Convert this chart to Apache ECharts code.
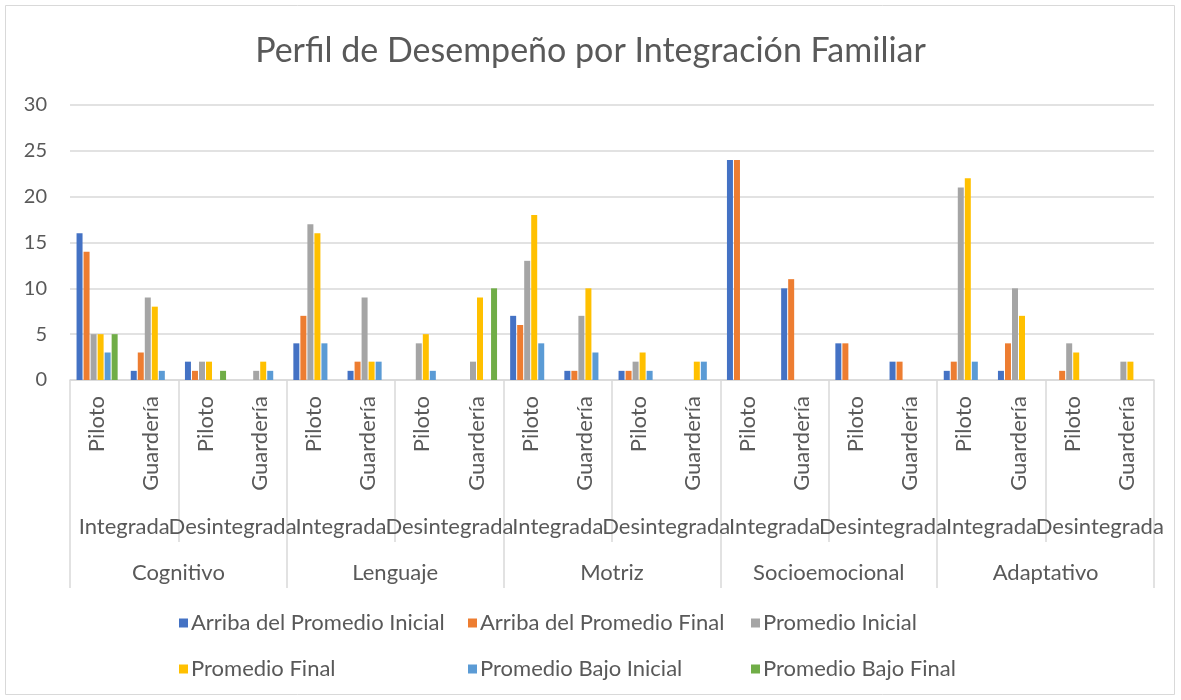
<!DOCTYPE html>
<html>
<head>
<meta charset="utf-8">
<title>Perfil de Desempeño por Integración Familiar</title>
<script src="https://cdn.jsdelivr.net/npm/echarts@6/dist/echarts.min.js"></script>
<style>
  html, body { margin: 0; padding: 0; background: #fff; }
  #chart { width: 1181px; height: 700px; }
</style>
</head>
<body>
<div id="chart"></div>
<script>
// categorias (tres niveles)
var areas = ['Cognitivo', 'Lenguaje', 'Motriz', 'Socioemocional', 'Adaptativo']
var integracion = ['Integrada', 'Desintegrada', 'Integrada', 'Desintegrada', 'Integrada', 'Desintegrada', 'Integrada', 'Desintegrada', 'Integrada', 'Desintegrada']
var grupos = ['Piloto', 'Guardería', 'Piloto', 'Guardería', 'Piloto', 'Guardería', 'Piloto', 'Guardería', 'Piloto', 'Guardería',
  'Piloto', 'Guardería', 'Piloto', 'Guardería', 'Piloto', 'Guardería', 'Piloto', 'Guardería', 'Piloto', 'Guardería']

var yTicks = { min: 0, max: 30, interval: 5 }

// valores por serie (20 categorias)
var arribaInicial = [16, 1, 2, 0, 4, 1, 0, 0, 7, 1, 1, 0, 24, 10, 4, 2, 1, 1, 0, 0]
var arribaFinal = [14, 3, 1, 0, 7, 2, 0, 0, 6, 1, 1, 0, 24, 11, 4, 2, 2, 4, 1, 0]
var promedioInicial = [5, 9, 2, 1, 17, 9, 4, 2, 13, 7, 2, 0, 0, 0, 0, 0, 21, 10, 4, 2]
var promedioFinal = [5, 8, 2, 2, 16, 2, 5, 9, 18, 10, 3, 2, 0, 0, 0, 0, 22, 7, 3, 2]
var bajoInicial = [3, 1, 0, 1, 4, 2, 1, 0, 4, 3, 1, 2, 0, 0, 0, 0, 2, 0, 0, 0]
var bajoFinal = [5, 0, 1, 0, 0, 0, 0, 10, 0, 0, 0, 0, 0, 0, 0, 0, 0, 0, 0, 0]

var serieNames = ['Arriba del Promedio Inicial', 'Arriba del Promedio Final', 'Promedio Inicial',
  'Promedio Final', 'Promedio Bajo Inicial', 'Promedio Bajo Final']
var serieData = [arribaInicial, arribaFinal, promedioInicial, promedioFinal, bajoInicial, bajoFinal]
var colores = ['#4472C4', '#ED7D31', '#A5A5A5', '#FFC000', '#5B9BD5', '#70AD47']

var fuente = 'Lato'
var gris = '#595959'
var linea = '#D9D9D9'

var chart = echarts.init(document.getElementById('chart'))

var series = serieNames.map(function (n, i) {
  return {
    name: n,
    type: 'bar',
    xAxisIndex: 0,
    barWidth: 6,
    barGap: '17%',
    itemStyle: { color: colores[i] },
    data: serieData[i]
  }
})

// leyenda en tres columnas fijas, dos filas
function legendCol (left, names) {
  return {
    left: left,
    top: 607,
    orient: 'vertical',
    itemGap: 24,
    itemWidth: 9,
    itemHeight: 9,
    icon: 'rect',
    textStyle: { fontFamily: fuente, fontSize: 22, color: gris, padding: [0, 0, 0, -2] },
    data: names
  }
}

var option = {
  backgroundColor: '#fff',
  animation: false,
  color: colores,
  title: {
    text: 'Perfil de Desempeño por Integración Familiar',
    left: 'center',
    top: 29,
    textStyle: { fontFamily: fuente, fontSize: 34, fontWeight: 'normal', color: gris }
  },
  graphic: [{
    type: 'rect',
    shape: { x: 5.5, y: 5.5, width: 1169, height: 689 },
    style: { fill: 'none', stroke: linea, lineWidth: 1 },
    silent: true
  }],
  legend: [
    legendCol(174, [serieNames[0], serieNames[3]]),
    legendCol(463, [serieNames[1], serieNames[4]]),
    legendCol(746, [serieNames[2], serieNames[5]])
  ],
  grid: { left: 70, right: 27, top: 105, bottom: 320, containLabel: false, outerBoundsMode: 'none' },
  xAxis: [
    {
      type: 'category',
      position: 'bottom',
      data: grupos,
      axisLine: { show: true, lineStyle: { color: linea, width: 1.5 } },
      axisTick: { show: false },
      axisLabel: { interval: 0, rotate: 90, margin: 16, fontFamily: fuente, fontSize: 22, color: gris }
    },
    {
      type: 'category',
      position: 'bottom',
      offset: 0,
      data: integracion,
      axisLine: { show: false },
      axisTick: { show: true, length: 162, lineStyle: { color: linea, width: 1.5 } },
      axisLabel: { interval: 0, margin: 136, fontFamily: fuente, fontSize: 22, color: gris }
    },
    {
      type: 'category',
      position: 'bottom',
      offset: 0,
      data: areas,
      axisLine: { show: false },
      axisTick: { show: true, length: 208, lineStyle: { color: linea, width: 1.5 } },
      axisLabel: { interval: 0, margin: 182, fontFamily: fuente, fontSize: 22, color: gris }
    }
  ],
  yAxis: {
    type: 'value',
    min: yTicks.min,
    max: yTicks.max,
    interval: yTicks.interval,
    axisLine: { show: false },
    axisTick: { show: false },
    splitLine: { lineStyle: { color: linea, width: 1.5 } },
    axisLabel: { margin: 23, fontFamily: fuente, fontSize: 20, color: gris }
  },
  series: series
}

chart.setOption(option)
</script>
</body>
</html>
